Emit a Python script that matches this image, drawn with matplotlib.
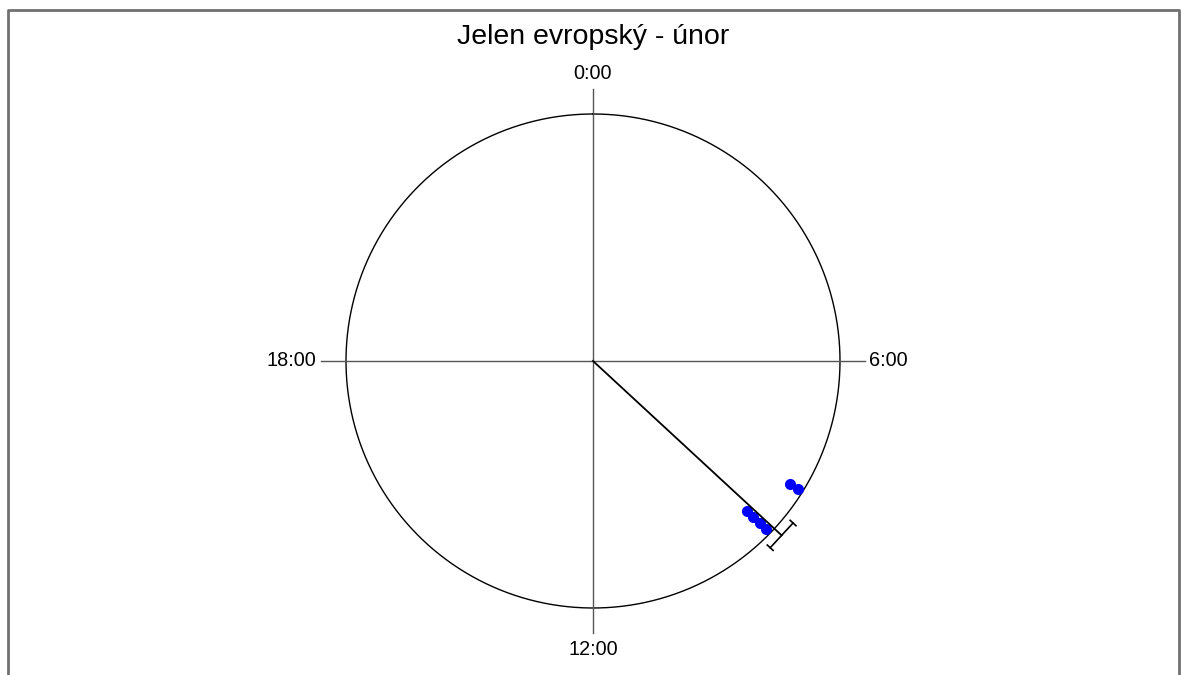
import numpy as np
import matplotlib.pyplot as plt
from matplotlib.lines import Line2D

plt.rcParams['font.family'] = ['Liberation Sans', 'DejaVu Sans']

# data
title = 'Jelen evropský - únor'
hour_labels = ['0:00', '6:00', '12:00', '18:00']
obs_hours = [8.13, 8.13, 8.95, 8.95, 8.95, 8.95]
mean_hour = 8.85
ci_half = 0.25   # hours


def to_xy(hour, r):
    a = np.asarray(hour) / 24.0 * 2 * np.pi
    return r * np.sin(a), r * np.cos(a)


W, H = 1181, 675
cx, cy, R = 593, 361, 247

fig = plt.figure(figsize=(W / 100, H / 100), dpi=100)
ax = fig.add_axes([0, 0, 1, 1])
ax.set_xlim(-cx / R, (W - cx) / R)
ax.set_ylim(-(H - cy) / R, cy / R)
ax.axis('off')

# frame around the plot (no bottom edge)
fig.add_artist(Line2D([8 / W, 8 / W, 1179 / W, 1179 / W],
                      [0, 1 - 10 / H, 1 - 10 / H, 0],
                      transform=fig.transFigure, color='#707070', lw=2))

# circle and cross
t = np.linspace(0, 24, 400)
x, y = to_xy(t, 1.0)
ax.plot(x, y, color='black', lw=1)
ax.plot([0, 0], [-1.10, 1.10], color='#555555', lw=1)
ax.plot([-1.10, 1.10], [0, 0], color='#555555', lw=1)

# hour labels
fs = 14.3
ax.text(0, 1.164, hour_labels[0], ha='center', va='center', fontsize=fs)
ax.text(1.118, 0, hour_labels[1], ha='left', va='center', fontsize=fs)
ax.text(0, -1.166, hour_labels[2], ha='center', va='center', fontsize=fs)
ax.text(-1.12, 0, hour_labels[3], ha='right', va='center', fontsize=fs)

# stacked observation dots
step = 0.035
counts = {}
for h in obs_hours:
    k = counts.get(h, 0)
    counts[h] = k + 1
    px, py = to_xy(h, 0.977 - k * step)
    ax.plot(px, py, 'o', color='blue', ms=7, mec='blue')

# mean direction and confidence bar
r_bar = 1.04
mx, my = to_xy(mean_hour, r_bar)
ax.plot([0, mx], [0, my], color='black', lw=1.3)
a = mean_hour / 24 * 2 * np.pi
tx, ty = np.cos(a), -np.sin(a)          # tangent direction
half = r_bar * np.tan(ci_half / 24 * 2 * np.pi)
ax.plot([mx - tx * half, mx + tx * half], [my - ty * half, my + ty * half],
        color='black', lw=1.2)
ux, uy = np.sin(a), np.cos(a)           # radial direction
cap = 0.016
for s in (-1, 1):
    ex, ey = mx + s * tx * half, my + s * ty * half
    ax.plot([ex - ux * cap, ex + ux * cap], [ey - uy * cap, ey + uy * cap],
            color='black', lw=1.2)

fig.text(cx / W, 1 - 37 / H, title, ha='center', va='center', fontsize=20.5)

fig.savefig('out.png', dpi=100)
